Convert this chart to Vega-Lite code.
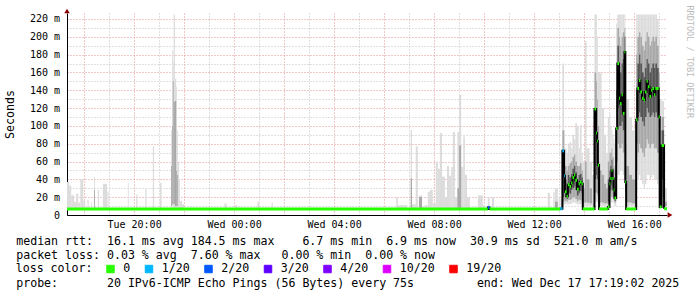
{
  "$schema": "https://vega.github.io/schema/vega-lite/v6.json",
  "width": 600,
  "height": 202,
  "autosize": {"type": "none"},
  "padding": {"left": 67, "top": 13, "right": 30, "bottom": 82},
  "background": "white",
  "view": {"stroke": null},
  "config": {"font": "DejaVu Sans Mono"},
  "datasets": {
    "smoke": [
      {"t":"2025-12-16T17:19:02","t2":"2025-12-16T17:24","lo":7,"hi":37},
      {"t":"2025-12-16T17:24","t2":"2025-12-16T17:29","lo":7,"hi":33},
      {"t":"2025-12-16T17:29","t2":"2025-12-16T17:36","lo":7,"hi":22},
      {"t":"2025-12-16T17:36","t2":"2025-12-16T17:41","lo":7,"hi":15},
      {"t":"2025-12-16T17:41","t2":"2025-12-16T17:46","lo":7,"hi":24},
      {"t":"2025-12-16T17:46","t2":"2025-12-16T17:51","lo":7,"hi":14},
      {"t":"2025-12-16T17:51","t2":"2025-12-16T17:58","lo":7,"hi":40},
      {"t":"2025-12-16T17:58","t2":"2025-12-16T18:03","lo":7,"hi":16},
      {"t":"2025-12-16T18:08","t2":"2025-12-16T18:11","lo":7,"hi":17},
      {"t":"2025-12-16T18:17","t2":"2025-12-16T18:19","lo":7,"hi":14},
      {"t":"2025-12-16T18:24","t2":"2025-12-16T18:26","lo":7,"hi":42,"mlo":7,"mhi":28},
      {"t":"2025-12-16T18:33","t2":"2025-12-16T18:36","lo":7,"hi":28},
      {"t":"2025-12-16T18:45","t2":"2025-12-16T18:55","lo":7,"hi":35},
      {"t":"2025-12-16T18:56","t2":"2025-12-16T18:59","lo":7,"hi":26},
      {"t":"2025-12-16T19:45","t2":"2025-12-16T19:47","lo":7,"hi":36},
      {"t":"2025-12-16T20:05","t2":"2025-12-16T20:08","lo":7,"hi":23},
      {"t":"2025-12-16T20:27","t2":"2025-12-16T20:30","lo":7,"hi":29},
      {"t":"2025-12-16T20:45","t2":"2025-12-16T20:48","lo":7,"hi":77},
      {"t":"2025-12-16T21:02","t2":"2025-12-16T21:06","lo":7,"hi":36},
      {"t":"2025-12-16T21:29","t2":"2025-12-16T21:31","lo":7,"hi":95,"mlo":10,"mhi":55},
      {"t":"2025-12-16T21:31","t2":"2025-12-16T21:33","lo":7,"hi":185,"mlo":12,"mhi":100},
      {"t":"2025-12-16T21:33","t2":"2025-12-16T21:35","lo":7,"hi":172,"mlo":12,"mhi":150},
      {"t":"2025-12-16T21:35","t2":"2025-12-16T21:38","lo":7,"hi":225,"mlo":12,"mhi":127},
      {"t":"2025-12-16T21:38","t2":"2025-12-16T21:41","lo":7,"hi":153,"mlo":10,"mhi":128},
      {"t":"2025-12-16T21:41","t2":"2025-12-16T21:43","lo":7,"hi":144,"mlo":10,"mhi":50},
      {"t":"2025-12-16T21:43","t2":"2025-12-16T21:45","lo":7,"hi":95,"mlo":10,"mhi":45},
      {"t":"2025-12-16T21:45","t2":"2025-12-16T21:48","lo":7,"hi":60},
      {"t":"2025-12-16T21:48","t2":"2025-12-16T21:50","lo":7,"hi":40},
      {"t":"2025-12-16T21:50","t2":"2025-12-16T21:55","lo":7,"hi":16},
      {"t":"2025-12-16T21:55","t2":"2025-12-16T22:00","lo":7,"hi":12},
      {"t":"2025-12-16T23:37","t2":"2025-12-16T23:42","lo":7,"hi":13},
      {"t":"2025-12-17T00:03","t2":"2025-12-17T00:08","lo":7,"hi":11},
      {"t":"2025-12-17T00:56","t2":"2025-12-17T01:00","lo":7,"hi":15},
      {"t":"2025-12-17T01:30","t2":"2025-12-17T01:33","lo":7,"hi":14},
      {"t":"2025-12-17T06:29","t2":"2025-12-17T06:33","lo":7,"hi":20},
      {"t":"2025-12-17T06:33","t2":"2025-12-17T06:55","lo":7,"hi":11},
      {"t":"2025-12-17T07:04","t2":"2025-12-17T07:07","lo":7,"hi":95,"mlo":8,"mhi":41},
      {"t":"2025-12-17T07:07","t2":"2025-12-17T07:16","lo":7,"hi":12},
      {"t":"2025-12-17T07:16","t2":"2025-12-17T07:21","lo":7,"hi":77},
      {"t":"2025-12-17T07:24","t2":"2025-12-17T07:31","lo":7,"hi":22,"mlo":8,"mhi":20},
      {"t":"2025-12-17T07:31","t2":"2025-12-17T07:38","lo":7,"hi":10},
      {"t":"2025-12-17T07:38","t2":"2025-12-17T07:45","lo":7,"hi":11},
      {"t":"2025-12-17T07:45","t2":"2025-12-17T07:50","lo":7,"hi":26},
      {"t":"2025-12-17T07:50","t2":"2025-12-17T07:57","lo":7,"hi":28},
      {"t":"2025-12-17T07:57","t2":"2025-12-17T08:04","lo":7,"hi":13},
      {"t":"2025-12-17T08:04","t2":"2025-12-17T08:09","lo":7,"hi":60},
      {"t":"2025-12-17T08:09","t2":"2025-12-17T08:14","lo":7,"hi":52},
      {"t":"2025-12-17T08:14","t2":"2025-12-17T08:19","lo":7,"hi":92},
      {"t":"2025-12-17T08:19","t2":"2025-12-17T08:26","lo":7,"hi":43},
      {"t":"2025-12-17T08:26","t2":"2025-12-17T08:31","lo":7,"hi":20},
      {"t":"2025-12-17T08:31","t2":"2025-12-17T08:36","lo":7,"hi":55},
      {"t":"2025-12-17T08:36","t2":"2025-12-17T08:41","lo":7,"hi":44},
      {"t":"2025-12-17T08:41","t2":"2025-12-17T08:45","lo":7,"hi":54},
      {"t":"2025-12-17T08:45","t2":"2025-12-17T08:50","lo":7,"hi":93},
      {"t":"2025-12-17T08:50","t2":"2025-12-17T08:56","lo":7,"hi":20},
      {"t":"2025-12-17T08:56","t2":"2025-12-17T09:00","lo":7,"hi":93,"mlo":8,"mhi":30},
      {"t":"2025-12-17T09:00","t2":"2025-12-17T09:05","lo":7,"hi":135,"mlo":8,"mhi":78},
      {"t":"2025-12-17T09:05","t2":"2025-12-17T09:10","lo":7,"hi":54},
      {"t":"2025-12-17T09:10","t2":"2025-12-17T09:14","lo":7,"hi":88},
      {"t":"2025-12-17T09:14","t2":"2025-12-17T09:19","lo":7,"hi":45},
      {"t":"2025-12-17T09:19","t2":"2025-12-17T09:26","lo":7,"hi":20},
      {"t":"2025-12-17T09:45","t2":"2025-12-17T09:57","lo":7,"hi":22},
      {"t":"2025-12-17T09:57","t2":"2025-12-17T10:02","lo":7,"hi":11},
      {"t":"2025-12-17T10:09","t2":"2025-12-17T10:13","lo":7,"hi":20},
      {"t":"2025-12-17T10:19","t2":"2025-12-17T10:24","lo":7,"hi":20},
      {"t":"2025-12-17T12:33","t2":"2025-12-17T12:38","lo":7,"hi":25},
      {"t":"2025-12-17T12:46","t2":"2025-12-17T12:49","lo":7,"hi":26},
      {"t":"2025-12-17T12:50","t2":"2025-12-17T12:57","lo":7,"hi":30,"mlo":8,"mhi":15},
      {"t":"2025-12-17T12:59","t2":"2025-12-17T13:02","lo":7,"hi":20},
      {"t":"2025-12-17T13:03","t2":"2025-12-17T13:08","lo":7,"hi":18},
      {"t":"2025-12-17T13:08","t2":"2025-12-17T13:12","lo":10,"hi":170,"mlo":14,"mhi":95,"dlo":20,"dhi":70},
      {"t":"2025-12-17T13:12","t2":"2025-12-17T13:14","lo":12,"hi":95,"mlo":16,"mhi":70,"dlo":25,"dhi":50},
      {"t":"2025-12-17T13:14","t2":"2025-12-17T13:18","lo":12,"hi":75,"mlo":16,"mhi":55,"dlo":20,"dhi":40},
      {"t":"2025-12-17T13:18","t2":"2025-12-17T13:21","lo":12,"hi":70,"mlo":15,"mhi":50,"dlo":18,"dhi":35},
      {"t":"2025-12-17T13:21","t2":"2025-12-17T13:25","lo":12,"hi":80,"mlo":17,"mhi":55,"dlo":25,"dhi":45},
      {"t":"2025-12-17T13:25","t2":"2025-12-17T13:29","lo":12,"hi":82,"mlo":17,"mhi":58,"dlo":24,"dhi":42},
      {"t":"2025-12-17T13:29","t2":"2025-12-17T13:32","lo":13,"hi":75,"mlo":18,"mhi":60,"dlo":28,"dhi":46},
      {"t":"2025-12-17T13:32","t2":"2025-12-17T13:36","lo":14,"hi":90,"mlo":20,"mhi":65,"dlo":30,"dhi":52},
      {"t":"2025-12-17T13:36","t2":"2025-12-17T13:39","lo":14,"hi":85,"mlo":20,"mhi":68,"dlo":32,"dhi":55},
      {"t":"2025-12-17T13:39","t2":"2025-12-17T13:43","lo":13,"hi":103,"mlo":18,"mhi":60,"dlo":28,"dhi":48},
      {"t":"2025-12-17T13:43","t2":"2025-12-17T13:47","lo":12,"hi":100,"mlo":16,"mhi":55,"dlo":22,"dhi":40},
      {"t":"2025-12-17T13:47","t2":"2025-12-17T13:50","lo":12,"hi":75,"mlo":17,"mhi":55,"dlo":25,"dhi":45},
      {"t":"2025-12-17T13:50","t2":"2025-12-17T13:54","lo":12,"hi":101,"mlo":17,"mhi":58,"dlo":27,"dhi":46},
      {"t":"2025-12-17T13:54","t2":"2025-12-17T13:57","lo":10,"hi":70,"mlo":15,"mhi":50,"dlo":25,"dhi":42},
      {"t":"2025-12-17T13:57","t2":"2025-12-17T14:02","lo":10,"hi":60,"mlo":14,"mhi":30},
      {"t":"2025-12-17T14:02","t2":"2025-12-17T14:06","lo":10,"hi":195,"mlo":14,"mhi":60},
      {"t":"2025-12-17T14:06","t2":"2025-12-17T14:13","lo":10,"hi":75,"mlo":14,"mhi":40},
      {"t":"2025-12-17T14:13","t2":"2025-12-17T14:19","lo":10,"hi":60,"mlo":13,"mhi":30},
      {"t":"2025-12-17T14:19","t2":"2025-12-17T14:25","lo":10,"hi":45},
      {"t":"2025-12-17T14:25","t2":"2025-12-17T14:29","lo":15,"hi":225,"mlo":25,"mhi":160,"dlo":40,"dhi":119},
      {"t":"2025-12-17T14:29","t2":"2025-12-17T14:31","lo":15,"hi":225,"mlo":25,"mhi":150,"dlo":45,"dhi":100},
      {"t":"2025-12-17T14:31","t2":"2025-12-17T14:33","lo":15,"hi":200,"mlo":22,"mhi":130,"dlo":40,"dhi":90},
      {"t":"2025-12-17T14:33","t2":"2025-12-17T14:36","lo":12,"hi":160,"mlo":18,"mhi":100,"dlo":25,"dhi":60},
      {"t":"2025-12-17T14:36","t2":"2025-12-17T14:42","lo":10,"hi":160,"mlo":14,"mhi":50},
      {"t":"2025-12-17T14:42","t2":"2025-12-17T14:48","lo":10,"hi":120,"mlo":14,"mhi":45},
      {"t":"2025-12-17T14:48","t2":"2025-12-17T14:53","lo":10,"hi":90,"mlo":13,"mhi":35},
      {"t":"2025-12-17T14:53","t2":"2025-12-17T14:57","lo":10,"hi":70,"mlo":13,"mhi":30},
      {"t":"2025-12-17T14:57","t2":"2025-12-17T15:01","lo":8,"hi":110,"mlo":12,"mhi":60,"dlo":15,"dhi":40},
      {"t":"2025-12-17T15:01","t2":"2025-12-17T15:03","lo":12,"hi":114,"mlo":18,"mhi":70,"dlo":25,"dhi":50},
      {"t":"2025-12-17T15:03","t2":"2025-12-17T15:06","lo":14,"hi":100,"mlo":20,"mhi":70,"dlo":28,"dhi":55},
      {"t":"2025-12-17T15:06","t2":"2025-12-17T15:08","lo":14,"hi":95,"mlo":22,"mhi":75,"dlo":32,"dhi":62},
      {"t":"2025-12-17T15:08","t2":"2025-12-17T15:11","lo":14,"hi":90,"mlo":20,"mhi":65,"dlo":28,"dhi":52},
      {"t":"2025-12-17T15:11","t2":"2025-12-17T15:13","lo":12,"hi":85,"mlo":17,"mhi":55,"dlo":20,"dhi":40},
      {"t":"2025-12-17T15:13","t2":"2025-12-17T15:17","lo":10,"hi":80,"mlo":14,"mhi":50,"dlo":16,"dhi":30},
      {"t":"2025-12-17T15:17","t2":"2025-12-17T15:20","lo":20,"hi":215,"mlo":40,"mhi":170,"dlo":60,"dhi":140},
      {"t":"2025-12-17T15:20","t2":"2025-12-17T15:24","lo":45,"hi":225,"mlo":80,"mhi":210,"dlo":120,"dhi":190},
      {"t":"2025-12-17T15:24","t2":"2025-12-17T15:26","lo":45,"hi":225,"mlo":75,"mhi":200,"dlo":100,"dhi":165},
      {"t":"2025-12-17T15:26","t2":"2025-12-17T15:30","lo":50,"hi":225,"mlo":75,"mhi":190,"dlo":100,"dhi":160},
      {"t":"2025-12-17T15:30","t2":"2025-12-17T15:33","lo":50,"hi":225,"mlo":80,"mhi":200,"dlo":105,"dhi":170},
      {"t":"2025-12-17T15:33","t2":"2025-12-17T15:37","lo":45,"hi":225,"mlo":70,"mhi":205,"dlo":95,"dhi":175},
      {"t":"2025-12-17T15:37","t2":"2025-12-17T15:39","lo":40,"hi":225,"mlo":70,"mhi":210,"dlo":110,"dhi":200},
      {"t":"2025-12-17T15:39","t2":"2025-12-17T15:41","lo":15,"hi":200,"mlo":25,"mhi":120,"dlo":30,"dhi":80},
      {"t":"2025-12-17T15:41","t2":"2025-12-17T15:48","lo":10,"hi":130,"mlo":14,"mhi":55},
      {"t":"2025-12-17T15:48","t2":"2025-12-17T15:55","lo":10,"hi":110,"mlo":14,"mhi":45},
      {"t":"2025-12-17T15:55","t2":"2025-12-17T16:05","lo":10,"hi":95,"mlo":13,"mhi":40},
      {"t":"2025-12-17T16:05","t2":"2025-12-17T16:08","lo":25,"hi":225,"mlo":50,"mhi":180,"dlo":80,"dhi":140},
      {"t":"2025-12-17T16:08","t2":"2025-12-17T16:12","lo":40,"hi":225,"mlo":70,"mhi":200,"dlo":110,"dhi":170},
      {"t":"2025-12-17T16:12","t2":"2025-12-17T16:15","lo":45,"hi":225,"mlo":80,"mhi":205,"dlo":115,"dhi":180},
      {"t":"2025-12-17T16:15","t2":"2025-12-17T16:19","lo":40,"hi":225,"mlo":75,"mhi":200,"dlo":110,"dhi":170},
      {"t":"2025-12-17T16:19","t2":"2025-12-17T16:23","lo":35,"hi":225,"mlo":70,"mhi":190,"dlo":105,"dhi":160},
      {"t":"2025-12-17T16:23","t2":"2025-12-17T16:26","lo":30,"hi":225,"mlo":65,"mhi":185,"dlo":100,"dhi":155},
      {"t":"2025-12-17T16:26","t2":"2025-12-17T16:30","lo":35,"hi":225,"mlo":75,"mhi":195,"dlo":110,"dhi":165},
      {"t":"2025-12-17T16:30","t2":"2025-12-17T16:33","lo":45,"hi":225,"mlo":85,"mhi":205,"dlo":120,"dhi":175},
      {"t":"2025-12-17T16:33","t2":"2025-12-17T16:37","lo":45,"hi":225,"mlo":80,"mhi":200,"dlo":115,"dhi":170},
      {"t":"2025-12-17T16:37","t2":"2025-12-17T16:41","lo":40,"hi":225,"mlo":75,"mhi":190,"dlo":110,"dhi":160},
      {"t":"2025-12-17T16:41","t2":"2025-12-17T16:44","lo":42,"hi":225,"mlo":80,"mhi":195,"dlo":112,"dhi":165},
      {"t":"2025-12-17T16:44","t2":"2025-12-17T16:48","lo":45,"hi":225,"mlo":80,"mhi":200,"dlo":115,"dhi":170},
      {"t":"2025-12-17T16:48","t2":"2025-12-17T16:51","lo":40,"hi":225,"mlo":75,"mhi":195,"dlo":110,"dhi":165},
      {"t":"2025-12-17T16:51","t2":"2025-12-17T16:55","lo":40,"hi":225,"mlo":75,"mhi":200,"dlo":115,"dhi":170},
      {"t":"2025-12-17T16:55","t2":"2025-12-17T16:59","lo":35,"hi":220,"mlo":70,"mhi":190,"dlo":110,"dhi":165},
      {"t":"2025-12-17T16:59","t2":"2025-12-17T17:01:30","lo":20,"hi":200,"mlo":40,"mhi":160,"dlo":70,"dhi":130},
      {"t":"2025-12-17T17:01:30","t2":"2025-12-17T17:06","lo":8,"hi":130,"mlo":12,"mhi":60,"dlo":15,"dhi":30},
      {"t":"2025-12-17T17:06","t2":"2025-12-17T17:12","lo":10,"hi":128,"mlo":20,"mhi":110,"dlo":40,"dhi":95},
      {"t":"2025-12-17T17:12","t2":"2025-12-17T17:19:02","lo":8,"hi":30,"mlo":10,"mhi":15}
    ],
    "median": [
      {"t":"2025-12-16T17:19:02","t2":"2025-12-17T10:09","med":6.8,"loss":"0"},
      {"t":"2025-12-17T10:09","t2":"2025-12-17T10:13","med":8.5,"loss":"2/20"},
      {"t":"2025-12-17T10:13","t2":"2025-12-17T13:03","med":6.8,"loss":"0"},
      {"t":"2025-12-17T13:03","t2":"2025-12-17T13:08","med":7,"loss":"1/20"},
      {"t":"2025-12-17T13:08","t2":"2025-12-17T13:12","med":72,"loss":"1/20"},
      {"t":"2025-12-17T13:12","t2":"2025-12-17T13:14","med":44,"loss":"1/20"},
      {"t":"2025-12-17T13:14","t2":"2025-12-17T13:18","med":26,"loss":"0"},
      {"t":"2025-12-17T13:18","t2":"2025-12-17T13:21","med":21,"loss":"0"},
      {"t":"2025-12-17T13:21","t2":"2025-12-17T13:25","med":34,"loss":"0"},
      {"t":"2025-12-17T13:25","t2":"2025-12-17T13:29","med":32,"loss":"0"},
      {"t":"2025-12-17T13:29","t2":"2025-12-17T13:32","med":36,"loss":"0"},
      {"t":"2025-12-17T13:32","t2":"2025-12-17T13:36","med":42,"loss":"0"},
      {"t":"2025-12-17T13:36","t2":"2025-12-17T13:39","med":45,"loss":"0"},
      {"t":"2025-12-17T13:39","t2":"2025-12-17T13:43","med":39,"loss":"0"},
      {"t":"2025-12-17T13:43","t2":"2025-12-17T13:47","med":29,"loss":"0"},
      {"t":"2025-12-17T13:47","t2":"2025-12-17T13:50","med":35,"loss":"0"},
      {"t":"2025-12-17T13:50","t2":"2025-12-17T13:54","med":37,"loss":"0"},
      {"t":"2025-12-17T13:54","t2":"2025-12-17T13:57","med":35,"loss":"0"},
      {"t":"2025-12-17T13:57","t2":"2025-12-17T14:25","med":6.8,"loss":"0"},
      {"t":"2025-12-17T14:25","t2":"2025-12-17T14:29","med":119,"loss":"0"},
      {"t":"2025-12-17T14:29","t2":"2025-12-17T14:31","med":92,"loss":"0"},
      {"t":"2025-12-17T14:31","t2":"2025-12-17T14:33","med":83,"loss":"0"},
      {"t":"2025-12-17T14:33","t2":"2025-12-17T14:36","med":56,"loss":"0"},
      {"t":"2025-12-17T14:36","t2":"2025-12-17T14:57","med":6.8,"loss":"0"},
      {"t":"2025-12-17T14:57","t2":"2025-12-17T15:01","med":9,"loss":"0"},
      {"t":"2025-12-17T15:01","t2":"2025-12-17T15:03","med":35,"loss":"0"},
      {"t":"2025-12-17T15:03","t2":"2025-12-17T15:06","med":41,"loss":"0"},
      {"t":"2025-12-17T15:06","t2":"2025-12-17T15:08","med":50,"loss":"0"},
      {"t":"2025-12-17T15:08","t2":"2025-12-17T15:11","med":41,"loss":"0"},
      {"t":"2025-12-17T15:11","t2":"2025-12-17T15:13","med":28,"loss":"0"},
      {"t":"2025-12-17T15:13","t2":"2025-12-17T15:17","med":19,"loss":"0"},
      {"t":"2025-12-17T15:17","t2":"2025-12-17T15:20","med":97,"loss":"0"},
      {"t":"2025-12-17T15:20","t2":"2025-12-17T15:24","med":170,"loss":"0"},
      {"t":"2025-12-17T15:24","t2":"2025-12-17T15:26","med":131,"loss":"0"},
      {"t":"2025-12-17T15:26","t2":"2025-12-17T15:30","med":125,"loss":"0"},
      {"t":"2025-12-17T15:30","t2":"2025-12-17T15:33","med":135,"loss":"0"},
      {"t":"2025-12-17T15:33","t2":"2025-12-17T15:37","med":114,"loss":"0"},
      {"t":"2025-12-17T15:37","t2":"2025-12-17T15:39","med":183,"loss":"0"},
      {"t":"2025-12-17T15:39","t2":"2025-12-17T15:41","med":37,"loss":"0"},
      {"t":"2025-12-17T15:41","t2":"2025-12-17T16:05","med":6.8,"loss":"0"},
      {"t":"2025-12-17T16:05","t2":"2025-12-17T16:08","med":107,"loss":"0"},
      {"t":"2025-12-17T16:08","t2":"2025-12-17T16:12","med":142,"loss":"0"},
      {"t":"2025-12-17T16:12","t2":"2025-12-17T16:15","med":151,"loss":"0"},
      {"t":"2025-12-17T16:15","t2":"2025-12-17T16:19","med":138,"loss":"0"},
      {"t":"2025-12-17T16:19","t2":"2025-12-17T16:23","med":131,"loss":"0"},
      {"t":"2025-12-17T16:23","t2":"2025-12-17T16:26","med":129,"loss":"0"},
      {"t":"2025-12-17T16:26","t2":"2025-12-17T16:30","med":138,"loss":"0"},
      {"t":"2025-12-17T16:30","t2":"2025-12-17T16:33","med":150,"loss":"0"},
      {"t":"2025-12-17T16:33","t2":"2025-12-17T16:37","med":144,"loss":"0"},
      {"t":"2025-12-17T16:37","t2":"2025-12-17T16:41","med":133,"loss":"0"},
      {"t":"2025-12-17T16:41","t2":"2025-12-17T16:44","med":140,"loss":"0"},
      {"t":"2025-12-17T16:44","t2":"2025-12-17T16:48","med":142,"loss":"0"},
      {"t":"2025-12-17T16:48","t2":"2025-12-17T16:51","med":135,"loss":"0"},
      {"t":"2025-12-17T16:51","t2":"2025-12-17T16:59","med":142,"loss":"0"},
      {"t":"2025-12-17T16:59","t2":"2025-12-17T17:01:30","med":110,"loss":"0"},
      {"t":"2025-12-17T17:01:30","t2":"2025-12-17T17:06","med":9,"loss":"0"},
      {"t":"2025-12-17T17:06","t2":"2025-12-17T17:12","med":78,"loss":"0"},
      {"t":"2025-12-17T17:12","t2":"2025-12-17T17:19:02","med":7,"loss":"0"}
    ]
  },
  "layer": [
    {
      "data": {"name": "smoke"},
      "mark": {"type": "rect", "color": "#dcdcdc", "clip": true},
      "encoding": {
        "x": {"field": "t", "type": "temporal",
          "scale": {"domain": [{"year":2025,"month":12,"date":16,"hours":17,"minutes":19,"seconds":2},{"year":2025,"month":12,"date":17,"hours":17,"minutes":19,"seconds":2}]},
          "axis": {"orient": "bottom",
            "values": [{"year":2025,"month":12,"date":16,"hours":19},{"year":2025,"month":12,"date":16,"hours":21},{"year":2025,"month":12,"date":16,"hours":23},{"year":2025,"month":12,"date":17,"hours":1},{"year":2025,"month":12,"date":17,"hours":3},{"year":2025,"month":12,"date":17,"hours":5},{"year":2025,"month":12,"date":17,"hours":7},{"year":2025,"month":12,"date":17,"hours":9},{"year":2025,"month":12,"date":17,"hours":11},{"year":2025,"month":12,"date":17,"hours":13},{"year":2025,"month":12,"date":17,"hours":15},{"year":2025,"month":12,"date":17,"hours":17}],
            "grid": true, "gridColor": "#c0c0c0", "gridDash": [1, 2], "gridWidth": 1,
            "labels": false, "ticks": false, "domain": false,
            "title": "probe:\u00a0\u00a0\u00a0\u00a0\u00a0\u00a0\u00a020 IPv6-ICMP Echo Pings (56 Bytes) every 75s\u00a0\u00a0\u00a0\u00a0\u00a0\u00a0\u00a0\u00a0\u00a0end: Wed Dec 17 17:19:02 2025",
            "titleX": -51.3, "titleY": 62, "titleAlign": "left", "titleAnchor": "start", "titleBaseline": "top", "titleAngle": 0,
            "titleFont": "DejaVu Sans Mono", "titleFontSize": 11.6, "titleFontWeight": "normal", "titleColor": "#000000"}},
        "x2": {"field": "t2"},
        "y": {"field": "lo", "type": "quantitative",
          "scale": {"domain": [0, 226.7], "nice": false, "zero": false},
          "axis": {"orient": "left", "values": [10,30,50,70,90,110,130,150,170,190,210],
            "grid": true, "gridColor": "#c0c0c0", "gridDash": [1, 2], "gridWidth": 1,
            "labels": false, "ticks": false, "domain": false, "title": null}},
        "y2": {"field": "hi"}
      }
    },
    {
      "data": {"name": "smoke"},
      "mark": {"type": "rect", "color": "#a8a8a8", "clip": true},
      "encoding": {
        "x": {"field": "t", "type": "temporal",
          "axis": {"orient": "bottom",
            "values": [{"year":2025,"month":12,"date":16,"hours":18},{"year":2025,"month":12,"date":16,"hours":20},{"year":2025,"month":12,"date":16,"hours":22},{"year":2025,"month":12,"date":17,"hours":0},{"year":2025,"month":12,"date":17,"hours":2},{"year":2025,"month":12,"date":17,"hours":4},{"year":2025,"month":12,"date":17,"hours":6},{"year":2025,"month":12,"date":17,"hours":8},{"year":2025,"month":12,"date":17,"hours":10},{"year":2025,"month":12,"date":17,"hours":12},{"year":2025,"month":12,"date":17,"hours":14},{"year":2025,"month":12,"date":17,"hours":16}],
            "grid": true, "gridColor": "#e09090", "gridDash": [1, 2], "gridWidth": 1,
            "labelExpr": "hours(datum.value) % 4 == 0 ? timeFormat(datum.value, '%a %H:%M') : ''",
            "labelFont": "DejaVu Sans Mono", "labelFontSize": 10, "labelColor": "#000000", "labelPadding": 4.5, "labelOverlap": false, "labelFlush": false,
            "ticks": false, "domain": true, "domainColor": "#000000", "domainWidth": 1,
            "title": ["median rtt:\u00a0\u00a016.1 ms avg 184.5 ms max\u00a0\u00a0\u00a0\u00a06.7 ms min\u00a0\u00a06.9 ms now\u00a0\u00a030.9 ms sd\u00a0\u00a0521.0 m am/s", "packet loss: 0.03 % avg\u00a0\u00a07.60 % max\u00a0\u00a0\u00a00.00 % min\u00a0\u00a00.00 % now"],
            "titleX": -51.3, "titleY": 20, "titleAlign": "left", "titleAnchor": "start", "titleBaseline": "top", "titleAngle": 0, "titleLineHeight": 14,
            "titleFont": "DejaVu Sans Mono", "titleFontSize": 11.6, "titleFontWeight": "normal", "titleColor": "#000000"}},
        "x2": {"field": "t2"},
        "y": {"field": "mlo", "type": "quantitative",
          "axis": {"orient": "left", "values": [0,20,40,60,80,100,120,140,160,180,200,220],
            "grid": true, "gridColor": "#e09090", "gridDash": [1, 2], "gridWidth": 1,
            "labelExpr": "datum.value == 0 ? '0\u00a0\u00a0' : datum.value + ' m'",
            "labelFont": "DejaVu Sans Mono", "labelFontSize": 10, "labelColor": "#000000", "labelPadding": 7.5,
            "ticks": false, "domain": true, "domainColor": "#000000", "domainWidth": 1,
            "title": "Seconds", "titleX": -56.5, "titleY": 101, "titleAngle": 270, "titleAlign": "center", "titleBaseline": "middle",
            "titleFont": "DejaVu Sans Mono", "titleFontSize": 11.6, "titleFontWeight": "normal", "titleColor": "#000000"}},
        "y2": {"field": "mhi"}
      }
    },
    {
      "data": {"name": "smoke"},
      "mark": {"type": "rect", "color": "#555555", "clip": true},
      "encoding": {
        "x": {"field": "t", "type": "temporal", "axis": null},
        "x2": {"field": "t2"},
        "y": {"field": "dlo", "type": "quantitative",
          "axis": {"orient": "right", "labels": false, "ticks": false, "domain": false, "grid": false,
            "title": "RRDTOOL / TOBI OETIKER", "titleX": 22, "titleY": -8, "titleAngle": 90, "titleAlign": "left", "titleBaseline": "middle",
            "titleFont": "DejaVu Sans Mono", "titleFontSize": 8.5, "titleFontWeight": "normal", "titleColor": "#bbbbbb"}},
        "y2": {"field": "dhi"}
      }
    },
    {
      "data": {"name": "median"},
      "mark": {"type": "line", "interpolate": "step-after", "color": "#000000", "strokeWidth": 2, "clip": true},
      "encoding": {
        "x": {"field": "t", "type": "temporal", "axis": null},
        "y": {"field": "med", "type": "quantitative", "axis": null}
      }
    },
    {
      "data": {"name": "median"},
      "mark": {"type": "rule", "strokeWidth": 3, "clip": true},
      "encoding": {
        "x": {"field": "t", "type": "temporal", "axis": null},
        "x2": {"field": "t2"},
        "y": {"field": "med", "type": "quantitative", "axis": null},
        "color": {"field": "loss", "type": "nominal",
          "scale": {"domain": ["0", "1/20", "2/20", "3/20", "4/20", "10/20", "19/20"],
                    "range": ["#26ff00", "#00b8ff", "#0059ff", "#5e00ff", "#7e00ff", "#dd00ff", "#ff0000"]},
          "legend": {"orient": "none", "legendX": -51.3, "legendY": 250, "direction": "horizontal",
            "title": "loss color:", "titleOrient": "left", "titlePadding": 12,
            "titleFont": "DejaVu Sans Mono", "titleFontSize": 11.6, "titleFontWeight": "normal", "titleColor": "#000000",
            "labelFont": "DejaVu Sans Mono", "labelFontSize": 11.6, "labelColor": "#000000", "labelOffset": 7,
            "symbolType": "square", "symbolSize": 56, "symbolStrokeWidth": 1, "symbolStrokeColor": "#000000", "symbolOpacity": 1,
            "columnPadding": 12.5, "padding": 0,
            "encode": {"symbols": {"enter": {"stroke": {"value": "#000000"}}, "update": {"fill": {"scale": "color", "field": "value"}, "stroke": {"value": "#000000"}, "strokeWidth": {"value": 1}, "opacity": {"value": 1}}}}}}
      }
    },
    {
      "data": {"values": [{}]},
      "mark": {"type": "point", "shape": "triangle-right", "filled": true, "color": "#8b0000", "size": 30, "xOffset": 3, "opacity": 1},
      "encoding": {
        "x": {"datum": {"year":2025,"month":12,"date":17,"hours":17,"minutes":19,"seconds":2}, "type": "temporal", "axis": null},
        "y": {"datum": 0, "type": "quantitative", "axis": null}
      }
    },
    {
      "data": {"values": [{}]},
      "mark": {"type": "point", "shape": "triangle-up", "filled": true, "color": "#8b0000", "size": 30, "yOffset": -2, "opacity": 1},
      "encoding": {
        "x": {"datum": {"year":2025,"month":12,"date":16,"hours":17,"minutes":19,"seconds":2}, "type": "temporal", "axis": null},
        "y": {"datum": 226.7, "type": "quantitative", "axis": null}
      }
    }
  ],
  "resolve": {"axis": {"x": "independent", "y": "independent"}}
}
